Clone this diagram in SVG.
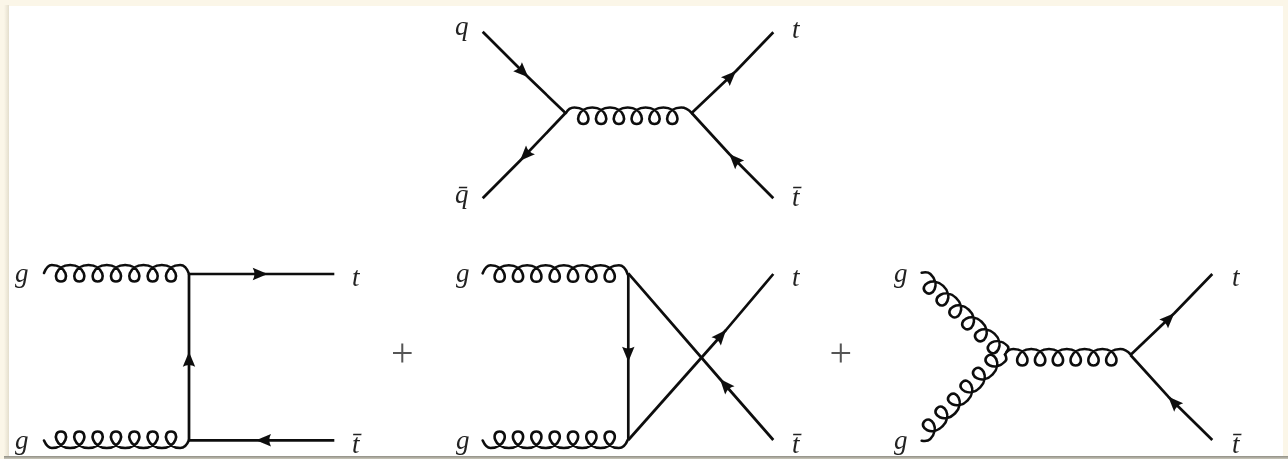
<svg xmlns="http://www.w3.org/2000/svg" xmlns:xlink="http://www.w3.org/1999/xlink" width="1288" height="459" viewBox="0 0 1288 459">
<style>
.f{fill:none;stroke:#0c0c0c;stroke-width:2.7;stroke-linejoin:round;marker-mid:url(#head)}
.g{fill:none;stroke:#0c0c0c;stroke-width:2.6;stroke-linecap:round}
.l{font-family:"Liberation Serif","Times New Roman",serif;font-style:italic;font-size:27px;fill:#222}
.p{font-family:"Liberation Serif","Times New Roman",serif;font-size:40px;fill:#555;text-anchor:middle}
</style>
<defs>
<linearGradient id="edgeL" x1="0" x2="1" y1="0" y2="0"><stop offset="0" stop-color="#fbf6e8"/><stop offset="1" stop-color="#e4decd"/></linearGradient>
<linearGradient id="edgeB" x1="0" x2="0" y1="0" y2="1"><stop offset="0" stop-color="#8f8e84"/><stop offset="1" stop-color="#cbc8bb"/></linearGradient>
<filter id="soft" x="-2%" y="-2%" width="104%" height="104%"><feGaussianBlur stdDeviation="0.45"/></filter>
<marker id="head" markerUnits="userSpaceOnUse" markerWidth="20" markerHeight="18" refX="17" refY="9" orient="auto"><path d="M17 9L2 2.8Q5.5 9 2 15.2Z" fill="#0c0c0c"/></marker>
<path id="coil6" class="g" d="M566 113C568 109 571 107.5 574.4 107.5c15 0 18 16.5 8.9 16.5c-9.1 0 -6.1 -16.5 8.9 -16.5c15 0 18 16.5 8.9 16.5c-9.1 0 -6.1 -16.5 8.9 -16.5c15 0 18 16.5 8.9 16.5c-9.1 0 -6.1 -16.5 8.9 -16.5c15 0 18 16.5 8.9 16.5c-9.1 0 -6.1 -16.5 8.9 -16.5c15 0 18 16.5 8.9 16.5c-9.1 0 -6.1 -16.5 8.9 -16.5c15 0 18 16.5 8.9 16.5c-9.1 0 -6.1 -16.5 8.9 -16.5C685 107.5 688 109 691.7 113"/>
<path id="coil7t" class="g" d="M44 273C46 268 49 265 51.8 265c15 0 18.3 16.5 9.17 16.5c-9.13 0 -5.83 -16.5 9.17 -16.5c15 0 18.3 16.5 9.17 16.5c-9.13 0 -5.83 -16.5 9.17 -16.5c15 0 18.3 16.5 9.17 16.5c-9.13 0 -5.83 -16.5 9.17 -16.5c15 0 18.3 16.5 9.17 16.5c-9.13 0 -5.83 -16.5 9.17 -16.5c15 0 18.3 16.5 9.17 16.5c-9.13 0 -5.83 -16.5 9.17 -16.5c15 0 18.3 16.5 9.17 16.5c-9.13 0 -5.83 -16.5 9.17 -16.5c15 0 18.3 16.5 9.17 16.5c-9.13 0 -5.83 -16.5 9.17 -16.5C184 265 187 268 189 274"/>
<path id="coil7b" class="g" d="M44 440.5C46 445 49 448 51.8 448c15 0 18.3 -16.5 9.17 -16.5c-9.13 0 -5.83 16.5 9.17 16.5c15 0 18.3 -16.5 9.17 -16.5c-9.13 0 -5.83 16.5 9.17 16.5c15 0 18.3 -16.5 9.17 -16.5c-9.13 0 -5.83 16.5 9.17 16.5c15 0 18.3 -16.5 9.17 -16.5c-9.13 0 -5.83 16.5 9.17 16.5c15 0 18.3 -16.5 9.17 -16.5c-9.13 0 -5.83 16.5 9.17 16.5c15 0 18.3 -16.5 9.17 -16.5c-9.13 0 -5.83 16.5 9.17 16.5c15 0 18.3 -16.5 9.17 -16.5c-9.13 0 -5.83 16.5 9.17 16.5C184 448 187 445 189 440"/>
</defs>
<rect width="1288" height="459" fill="#fbf6e8"/>
<rect x="4" y="5" width="5" height="454" fill="url(#edgeL)"/>
<rect x="9" y="6" width="1274" height="450" fill="#fff"/>
<rect x="4" y="456" width="1284" height="3" fill="url(#edgeB)"/>
<g filter="url(#soft)">
<g id="connectors">
<g id="s-channel">
<path class="f" d="M482.7 31.7L528.3 77.3L565.5 113"/>
<path class="f" d="M565.5 113L520 160.7L482.7 198.3"/>
<path class="f" d="M691.7 113L736 71L773.3 32.3"/>
<path class="f" d="M773.3 198.3L729.3 154L691.7 113"/>
<use href="#coil6"/>
</g>
<g id="t-channel">
<use href="#coil7t"/>
<use href="#coil7b"/>
<path class="f" d="M189 440.3L189 351.7L189 274"/>
<path class="f" d="M189 274L267.7 274L334.3 274"/>
<path class="f" d="M334.3 440.3L256 440.3L189 440.3"/>
</g>
<g id="u-channel">
<use href="#coil7t" transform="translate(438.7 0.3)"/>
<use href="#coil7b" transform="translate(438.7 0)"/>
<path class="f" d="M628.3 273.3L628.3 361.7L628.3 440"/>
<path class="f" d="M628.3 440L726 330L773.3 274"/>
<path class="f" d="M773.3 440L720 379L628.3 273.3"/>
</g>
<g id="triple-gluon">
<path class="g" transform="translate(921.7 272.7) rotate(43)" d="M0 0C2 -3 4.5 -5 7.25 -5c15 0 17.9 16.5 8.75 16.5c-9.15 0 -6.25 -16.5 8.75 -16.5c15 0 17.9 16.5 8.75 16.5c-9.15 0 -6.25 -16.5 8.75 -16.5c15 0 17.9 16.5 8.75 16.5c-9.15 0 -6.25 -16.5 8.75 -16.5c15 0 17.9 16.5 8.75 16.5c-9.15 0 -6.25 -16.5 8.75 -16.5c15 0 17.9 16.5 8.75 16.5c-9.15 0 -6.25 -16.5 8.75 -16.5c15 0 17.9 16.5 8.75 16.5c-9.15 0 -6.25 -16.5 8.75 -16.5C115 -5 116 -3 116 0"/>
<path class="g" transform="translate(921.7 440.7) rotate(-46)" d="M0 0C2 3 4.5 5 7 5c15 0 18.1 -16.5 9 -16.5c-9.1 0 -6 16.5 9 16.5c15 0 18.1 -16.5 9 -16.5c-9.1 0 -6 16.5 9 16.5c15 0 18.1 -16.5 9 -16.5c-9.1 0 -6 16.5 9 16.5c15 0 18.1 -16.5 9 -16.5c-9.1 0 -6 16.5 9 16.5c15 0 18.1 -16.5 9 -16.5c-9.1 0 -6 16.5 9 16.5c15 0 18.1 -16.5 9 -16.5c-9.1 0 -6 16.5 9 16.5C117 5 119 3 120 0"/>
<use href="#coil6" transform="translate(439 241.5)"/>
<path class="f" d="M1130.5 355L1174.3 313.3L1212.3 274"/>
<path class="f" d="M1212.3 440L1168.3 396.7L1130.5 355"/>
</g>
</g>
<g id="label-q"><text class="l" x="455" y="35">q</text></g>
<g id="label-qbar"><text class="l" x="455" y="203">q̄</text></g>
<g id="label-t1"><text class="l" x="792" y="38">t</text></g>
<g id="label-tbar1"><text class="l" x="792" y="206">t̄</text></g>
<g id="label-g1"><text class="l" x="15" y="282">g</text></g>
<g id="label-g2"><text class="l" x="15" y="449">g</text></g>
<g id="label-t2"><text class="l" x="352" y="286">t</text></g>
<g id="label-tbar2"><text class="l" x="352" y="453">t̄</text></g>
<g id="plus1"><text class="p" x="402.3" y="366">+</text></g>
<g id="label-g3"><text class="l" x="456" y="282">g</text></g>
<g id="label-g4"><text class="l" x="456" y="449">g</text></g>
<g id="label-t3"><text class="l" x="792" y="286">t</text></g>
<g id="label-tbar3"><text class="l" x="792" y="453">t̄</text></g>
<g id="plus2"><text class="p" x="840.7" y="366">+</text></g>
<g id="label-g5"><text class="l" x="894" y="282">g</text></g>
<g id="label-g6"><text class="l" x="894" y="449">g</text></g>
<g id="label-t4"><text class="l" x="1232" y="286">t</text></g>
<g id="label-tbar4"><text class="l" x="1232" y="453">t̄</text></g>
</g>
</svg>
